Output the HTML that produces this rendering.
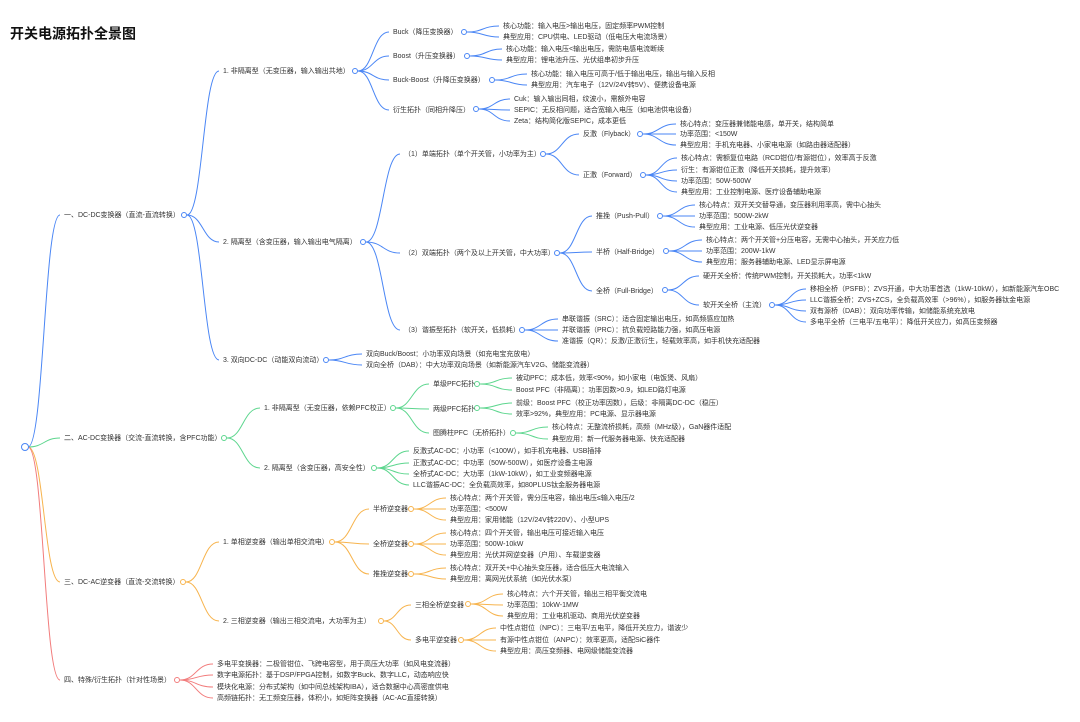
<!DOCTYPE html>
<html><head><meta charset="utf-8"><style>
html,body{margin:0;padding:0;background:#fff;}
svg{display:block;}
text{font-family:"Liberation Sans","Noto Sans CJK SC",sans-serif;font-size:7px;fill:#333;dominant-baseline:middle;}
.t{font-size:14px;font-weight:bold;fill:#111;}
path{fill:none;stroke-width:1;}
.b path,.b circle{stroke:#4a86f5;} .g path,.g circle{stroke:#5dd68e;} .o path,.o circle{stroke:#f7b44e;} .r path,.r circle{stroke:#f27c7c;}
circle{fill:#fff;stroke-width:1;}
</style></head><body>
<svg width="1080" height="722" viewBox="0 0 1080 722" xmlns="http://www.w3.org/2000/svg">
<text class="t" x="10" y="35">开关电源拓扑全景图</text>

<g class="b">
<path d="M28 447 C44 447 44 215 60 215"/>
<path d="M187 215 C203 215 203 71 219 71"/><path d="M187 215 C203 215 203 242 219 242"/><path d="M187 215 C203 215 203 360 219 360"/>
<path d="M358 71 C373 71 373 32 389 32"/><path d="M358 71 C373 71 373 56 389 56"/><path d="M358 71 C373 71 373 80 389 80"/><path d="M358 71 C373 71 373 110 389 110"/>
<path d="M467 32 C483 32 483 26 499 26"/><path d="M467 32 C483 32 483 37 499 37"/>
<path d="M470 56 C486 56 486 49 502 49"/><path d="M470 56 C486 56 486 60 502 60"/>
<path d="M495 80 C511 80 511 74 527 74"/><path d="M495 80 C511 80 511 85 527 85"/>
<path d="M479 109 C494 109 494 99 510 99"/><path d="M479 109 C494 109 494 110 510 110"/><path d="M479 109 C494 109 494 121 510 121"/>
<path d="M366 242 C383 242 383 154 400 154"/><path d="M366 242 C383 242 383 253 400 253"/><path d="M366 242 C383 242 383 330 400 330"/>
<path d="M546 154 C562 154 562 134 579 134"/><path d="M546 154 C562 154 562 175 579 175"/>
<path d="M643 134 C659 134 659 124 676 124"/><path d="M643 134 C659 134 659 134 676 134"/><path d="M643 134 C659 134 659 145 676 145"/>
<path d="M646 175 C661 175 661 158 677 158"/><path d="M646 175 C661 175 661 170 677 170"/><path d="M646 175 C661 175 661 181 677 181"/><path d="M646 175 C661 175 661 192 677 192"/>
<path d="M560 253 C576 253 576 216 592 216"/><path d="M560 253 C576 253 576 252 592 252"/><path d="M560 253 C576 253 576 291 592 291"/>
<path d="M663 216 C679 216 679 205 695 205"/><path d="M663 216 C679 216 679 216 695 216"/><path d="M663 216 C679 216 679 227 695 227"/>
<path d="M669 251 C685 251 685 240 702 240"/><path d="M669 251 C685 251 685 251 702 251"/><path d="M669 251 C685 251 685 262 702 262"/>
<path d="M668 290 C683 290 683 276 699 276"/><path d="M668 290 C683 290 683 305 699 305"/>
<path d="M775 305 C790 305 790 289 806 289"/><path d="M775 305 C790 305 790 300 806 300"/><path d="M775 305 C790 305 790 311 806 311"/><path d="M775 305 C790 305 790 322 806 322"/>
<path d="M525 330 C541 330 541 319 558 319"/><path d="M525 330 C541 330 541 330 558 330"/><path d="M525 330 C541 330 541 341 558 341"/>
<path d="M329 360 C345 360 345 354 362 354"/><path d="M329 360 C345 360 345 365 362 365"/>
<circle cx="184" cy="215" r="2.5"/><circle cx="355" cy="71" r="2.5"/><circle cx="363" cy="242" r="2.5"/><circle cx="326" cy="360" r="2.5"/>
<circle cx="464" cy="32" r="2.5"/><circle cx="467" cy="56" r="2.5"/><circle cx="492" cy="80" r="2.5"/><circle cx="476" cy="109" r="2.5"/>
<circle cx="543" cy="154" r="2.5"/><circle cx="640" cy="134" r="2.5"/><circle cx="643" cy="175" r="2.5"/><circle cx="557" cy="253" r="2.5"/>
<circle cx="660" cy="216" r="2.5"/><circle cx="666" cy="251" r="2.5"/><circle cx="665" cy="290" r="2.5"/><circle cx="772" cy="305" r="2.5"/><circle cx="522" cy="330" r="2.5"/>
</g>

<g class="g">
<path d="M28 447 C44 447 44 438 60 438"/>
<path d="M227 438 C243 438 243 408 260 408"/><path d="M227 438 C243 438 243 468 260 468"/>
<path d="M396 408 C412 408 412 384 429 384"/><path d="M396 408 C412 408 412 409 429 409"/><path d="M396 408 C412 408 412 433 429 433"/>
<path d="M480 384 C496 384 496 378 512 378"/><path d="M480 384 C496 384 496 390 512 390"/>
<path d="M480 408 C496 408 496 403 512 403"/><path d="M480 408 C496 408 496 414 512 414"/>
<path d="M516 433 C532 433 532 427 548 427"/><path d="M516 433 C532 433 532 439 548 439"/>
<path d="M377 468 C393 468 393 451 409 451"/><path d="M377 468 C393 468 393 463 409 463"/><path d="M377 468 C393 468 393 474 409 474"/><path d="M377 468 C393 468 393 485 409 485"/>
<circle cx="224" cy="438" r="2.5"/><circle cx="393" cy="408" r="2.5"/><circle cx="374" cy="468" r="2.5"/>
<circle cx="477" cy="384" r="2.5"/><circle cx="477" cy="408" r="2.5"/><circle cx="513" cy="433" r="2.5"/>
</g>

<g class="o">
<path d="M28 447 C44 447 44 582 60 582"/>
<path d="M186 582 C202 582 202 542 219 542"/><path d="M186 582 C202 582 202 621 219 621"/>
<path d="M335 542 C352 542 352 509 369 509"/><path d="M335 542 C352 542 352 544 369 544"/><path d="M335 542 C352 542 352 574 369 574"/>
<path d="M414 509 C430 509 430 498 446 498"/><path d="M414 509 C430 509 430 509 446 509"/><path d="M414 509 C430 509 430 520 446 520"/>
<path d="M414 544 C430 544 430 533 446 533"/><path d="M414 544 C430 544 430 544 446 544"/><path d="M414 544 C430 544 430 555 446 555"/>
<path d="M414 574 C430 574 430 568 446 568"/><path d="M414 574 C430 574 430 579 446 579"/>
<path d="M384 621 C397 621 397 605 411 605"/><path d="M384 621 C397 621 397 640 411 640"/>
<path d="M471 604 C487 604 487 594 503 594"/><path d="M471 604 C487 604 487 605 503 605"/><path d="M471 604 C487 604 487 616 503 616"/>
<path d="M464 640 C480 640 480 628 496 628"/><path d="M464 640 C480 640 480 640 496 640"/><path d="M464 640 C480 640 480 651 496 651"/>
<circle cx="183" cy="582" r="2.5"/><circle cx="332" cy="542" r="2.5"/><circle cx="381" cy="621" r="2.5"/>
<circle cx="411" cy="509" r="2.5"/><circle cx="411" cy="544" r="2.5"/><circle cx="411" cy="574" r="2.5"/>
<circle cx="468" cy="604" r="2.5"/><circle cx="461" cy="640" r="2.5"/>
</g>

<g class="r">
<path d="M28 447 C44 447 44 680 60 680"/>
<path d="M180 680 C196 680 196 664 213 664"/><path d="M180 680 C196 680 196 675 213 675"/><path d="M180 680 C196 680 196 687 213 687"/><path d="M180 680 C196 680 196 698 213 698"/>
<circle cx="177" cy="680" r="2.5"/>
</g>
<circle cx="25" cy="447" r="3.5" style="stroke:#4a86f5"/>

<!-- texts -->
<text x="64" y="215">一、DC-DC变换器（直流-直流转换）</text>
<text x="64" y="438">二、AC-DC变换器（交流-直流转换，含PFC功能）</text>
<text x="64" y="582">三、DC-AC逆变器（直流-交流转换）</text>
<text x="64" y="680">四、特殊/衍生拓扑（针对性场景）</text>

<text x="223" y="71">1. 非隔离型（无变压器，输入输出共地）</text>
<text x="223" y="242">2. 隔离型（含变压器，输入输出电气隔离）</text>
<text x="223" y="360">3. 双向DC-DC（动能双向流动）</text>

<text x="393" y="32">Buck（降压变换器）</text>
<text x="503" y="26">核心功能：输入电压&gt;输出电压，固定频率PWM控制</text>
<text x="503" y="37">典型应用：CPU供电、LED驱动（低电压大电流场景）</text>
<text x="393" y="56">Boost（升压变换器）</text>
<text x="506" y="49">核心功能：输入电压&lt;输出电压，需防电感电流断续</text>
<text x="506" y="60">典型应用：锂电池升压、光伏组串初步升压</text>
<text x="393" y="80">Buck-Boost（升降压变换器）</text>
<text x="531" y="74">核心功能：输入电压可高于/低于输出电压，输出与输入反相</text>
<text x="531" y="85">典型应用：汽车电子（12V/24V转5V）、便携设备电源</text>
<text x="393" y="110">衍生拓扑（同相升降压）</text>
<text x="514" y="99">Cuk：输入输出同相，纹波小，需额外电容</text>
<text x="514" y="110">SEPIC：无反相问题，适合宽输入电压（如电池供电设备）</text>
<text x="514" y="121">Zeta：结构简化版SEPIC，成本更低</text>

<text x="404" y="154">（1）单端拓扑（单个开关管，小功率为主）</text>
<text x="583" y="134">反激（Flyback）</text>
<text x="680" y="124">核心特点：变压器兼储能电感，单开关，结构简单</text>
<text x="680" y="134">功率范围：&lt;150W</text>
<text x="680" y="145">典型应用：手机充电器、小家电电源（如路由器适配器）</text>
<text x="583" y="175">正激（Forward）</text>
<text x="681" y="158">核心特点：需额复位电路（RCD钳位/有源钳位），效率高于反激</text>
<text x="681" y="170">衍生：有源钳位正激（降低开关损耗，提升效率）</text>
<text x="681" y="181">功率范围：50W-500W</text>
<text x="681" y="192">典型应用：工业控制电源、医疗设备辅助电源</text>

<text x="404" y="253">（2）双端拓扑（两个及以上开关管，中大功率）</text>
<text x="596" y="216">推挽（Push-Pull）</text>
<text x="699" y="205">核心特点：双开关交替导通，变压器利用率高，需中心抽头</text>
<text x="699" y="216">功率范围：500W-2kW</text>
<text x="699" y="227">典型应用：工业电源、低压光伏逆变器</text>
<text x="596" y="252">半桥（Half-Bridge）</text>
<text x="706" y="240">核心特点：两个开关管+分压电容，无需中心抽头，开关应力低</text>
<text x="706" y="251">功率范围：200W-1kW</text>
<text x="706" y="262">典型应用：服务器辅助电源、LED显示屏电源</text>
<text x="596" y="291">全桥（Full-Bridge）</text>
<text x="703" y="276">硬开关全桥：传统PWM控制，开关损耗大，功率&lt;1kW</text>
<text x="703" y="305">软开关全桥（主流）</text>
<text x="810" y="289">移相全桥（PSFB）：ZVS开通，中大功率首选（1kW-10kW），如新能源汽车OBC</text>
<text x="810" y="300">LLC谐振全桥：ZVS+ZCS，全负载高效率（&gt;96%），如服务器钛金电源</text>
<text x="810" y="311">双有源桥（DAB）：双向功率传输，如储能系统充放电</text>
<text x="810" y="322">多电平全桥（三电平/五电平）：降低开关应力，如高压变频器</text>

<text x="404" y="330">（3）谐振型拓扑（软开关，低损耗）</text>
<text x="562" y="319">串联谐振（SRC）：适合固定输出电压，如高频感应加热</text>
<text x="562" y="330">并联谐振（PRC）：抗负载短路能力强，如高压电源</text>
<text x="562" y="341">准谐振（QR）：反激/正激衍生，轻载效率高，如手机快充适配器</text>

<text x="366" y="354">双向Buck/Boost：小功率双向场景（如充电宝充放电）</text>
<text x="366" y="365">双向全桥（DAB）：中大功率双向场景（如新能源汽车V2G、储能变流器）</text>

<text x="264" y="408">1. 非隔离型（无变压器，依赖PFC校正）</text>
<text x="433" y="384">单级PFC拓扑</text>
<text x="516" y="378">被动PFC：成本低，效率&lt;90%，如小家电（电饭煲、风扇）</text>
<text x="516" y="390">Boost PFC（非隔离）：功率因数&gt;0.9，如LED路灯电源</text>
<text x="433" y="409">两级PFC拓扑</text>
<text x="516" y="403">前级：Boost PFC（校正功率因数），后级：非隔离DC-DC（稳压）</text>
<text x="516" y="414">效率&gt;92%，典型应用：PC电源、显示器电源</text>
<text x="433" y="433">图腾柱PFC（无桥拓扑）</text>
<text x="552" y="427">核心特点：无整流桥损耗，高频（MHz级），GaN器件适配</text>
<text x="552" y="439">典型应用：新一代服务器电源、快充适配器</text>
<text x="264" y="468">2. 隔离型（含变压器，高安全性）</text>
<text x="413" y="451">反激式AC-DC：小功率（&lt;100W），如手机充电器、USB插排</text>
<text x="413" y="463">正激式AC-DC：中功率（50W-500W），如医疗设备主电源</text>
<text x="413" y="474">全桥式AC-DC：大功率（1kW-10kW），如工业变频器电源</text>
<text x="413" y="485">LLC谐振AC-DC：全负载高效率，如80PLUS钛金服务器电源</text>

<text x="223" y="542">1. 单相逆变器（输出单相交流电）</text>
<text x="373" y="509">半桥逆变器</text>
<text x="450" y="498">核心特点：两个开关管，需分压电容，输出电压≤输入电压/2</text>
<text x="450" y="509">功率范围：&lt;500W</text>
<text x="450" y="520">典型应用：家用储能（12V/24V转220V）、小型UPS</text>
<text x="373" y="544">全桥逆变器</text>
<text x="450" y="533">核心特点：四个开关管，输出电压可接近输入电压</text>
<text x="450" y="544">功率范围：500W-10kW</text>
<text x="450" y="555">典型应用：光伏并网逆变器（户用）、车载逆变器</text>
<text x="373" y="574">推挽逆变器</text>
<text x="450" y="568">核心特点：双开关+中心抽头变压器，适合低压大电流输入</text>
<text x="450" y="579">典型应用：离网光伏系统（如光伏水泵）</text>
<text x="223" y="621">2. 三相逆变器（输出三相交流电，大功率为主）</text>
<text x="415" y="605">三相全桥逆变器</text>
<text x="507" y="594">核心特点：六个开关管，输出三相平衡交流电</text>
<text x="507" y="605">功率范围：10kW-1MW</text>
<text x="507" y="616">典型应用：工业电机驱动、商用光伏逆变器</text>
<text x="415" y="640">多电平逆变器</text>
<text x="500" y="628">中性点钳位（NPC）：三电平/五电平，降低开关应力，谐波少</text>
<text x="500" y="640">有源中性点钳位（ANPC）：效率更高，适配SiC器件</text>
<text x="500" y="651">典型应用：高压变频器、电网级储能变流器</text>

<text x="217" y="664">多电平变换器：二极管钳位、飞跨电容型，用于高压大功率（如风电变流器）</text>
<text x="217" y="675">数字电源拓扑：基于DSP/FPGA控制，如数字Buck、数字LLC，动态响应快</text>
<text x="217" y="687">模块化电源：分布式架构（如中间总线架构IBA），适合数据中心高密度供电</text>
<text x="217" y="698">高频链拓扑：无工频变压器，体积小，如矩阵变换器（AC-AC直接转换）</text>
</svg>
</body></html>
